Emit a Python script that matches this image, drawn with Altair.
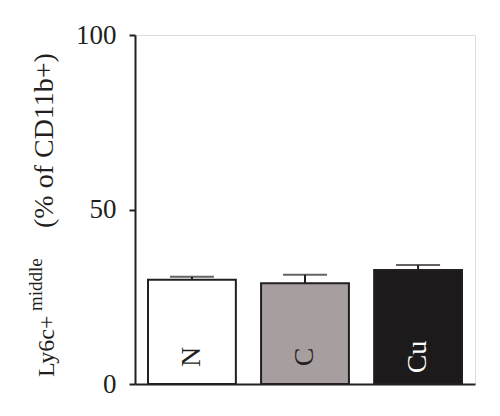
import altair as alt
import pandas as pd

groups = ["N", "C", "Cu"]
means = [29.9, 28.9, 32.7]
errs = [0.8, 2.4, 1.4]
fills = ["#ffffff", "#a69e9f", "#1c1a1a"]
label_colors = ["#231f20", "#231f20", "#ffffff"]
y_ticks = [0, 50, 100]

df = pd.DataFrame({
    "group": groups,
    "mean": means,
    "top": [m + e for m, e in zip(means, errs)],
    "fill": fills,
    "lcolor": label_colors,
})

W, H = 340, 349
FONT = "Liberation Serif"
INK = "#231f20"

x = alt.X("group:N", sort=groups,
          scale=alt.Scale(paddingInner=0.223, paddingOuter=0.115),
          axis=alt.Axis(title=None, labels=False, ticks=False,
                        domainColor=INK, domainWidth=2))
y = alt.Y("mean:Q", scale=alt.Scale(domain=[0, 100], nice=False),
          axis=alt.Axis(title=None, values=y_ticks, grid=False,
                        labelFont=FONT, labelFontSize=27, labelColor=INK,
                        labelPadding=13, tickSize=6, tickWidth=2, tickColor=INK,
                        domainColor=INK, domainWidth=2))

base = alt.Chart(df)

bars = base.mark_bar(stroke=INK, strokeWidth=2).encode(
    x=x, y=y, fill=alt.Fill("fill:N", scale=None)
)
err_rule = base.mark_rule(color=INK, strokeWidth=2).encode(
    x=alt.X("group:N", sort=groups), y="mean:Q", y2="top:Q"
)
err_cap = base.mark_tick(color=INK, thickness=2, size=44).encode(
    x=alt.X("group:N", sort=groups), y="top:Q"
)
labels = base.mark_text(font=FONT, fontSize=28, angle=270, align="center",
                        baseline="middle").encode(
    x=alt.X("group:N", sort=groups),
    y=alt.value(322),
    text="group:N",
    color=alt.Color("lcolor:N", scale=None),
)

title_df = pd.DataFrame({"t": ["x"]})
tbase = alt.Chart(title_df)
t1 = tbase.mark_text(font=FONT, fontSize=24, angle=270, align="left",
                     baseline="middle", color=INK).encode(
    x=alt.value(-88), y=alt.value(342), text=alt.value("Ly6c+"))
t2 = tbase.mark_text(font=FONT, fontSize=19, angle=270, align="left",
                     baseline="middle", color=INK).encode(
    x=alt.value(-99), y=alt.value(276), text=alt.value("middle"))
t3 = tbase.mark_text(font=FONT, fontSize=28, angle=270, align="left",
                     baseline="middle", color=INK).encode(
    x=alt.value(-90), y=alt.value(193), text=alt.value("(% of CD11b+)"))

chart = alt.layer(bars, err_rule, err_cap, labels, t1, t2, t3).properties(
    width=W, height=H,
    autosize=alt.AutoSizeParams(type="none"),
    padding={"left": 127, "top": 27, "right": 17, "bottom": 24},
).configure_view(stroke=INK, strokeWidth=2).configure(background="white")

chart.save("out.html", embed_options={"renderer": "svg", "actions": False})
